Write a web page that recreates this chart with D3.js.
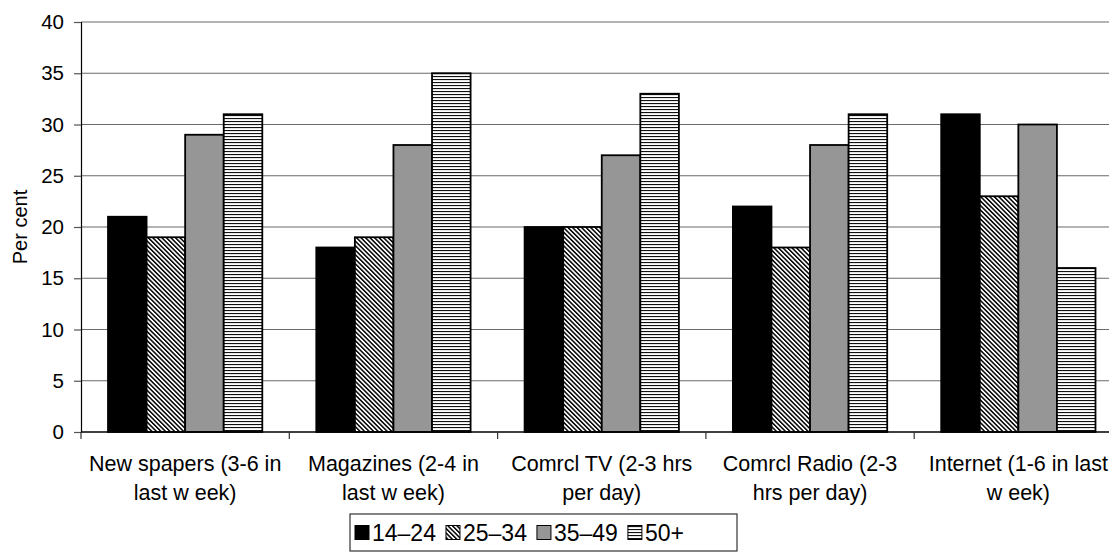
<!DOCTYPE html>
<html>
<head>
<meta charset="utf-8">
<script src="https://cdn.jsdelivr.net/npm/d3@7"></script>
<style>
  html, body { margin: 0; padding: 0; background: #fff; }
  svg { display: block; font-family: "Liberation Sans", Arial, sans-serif; }
</style>
</head>
<body>
<svg id="chart" width="1109" height="559"></svg>
<script>
// Media consumption by age group
const categories = ["Newspapers", "Magazines", "Comrcl TV", "Comrcl Radio", "Internet"];
const categoryLabels = [
  ["New spapers (3-6 in", "last w eek)"],
  ["Magazines (2-4 in", "last w eek)"],
  ["Comrcl TV (2-3 hrs", "per day)"],
  ["Comrcl Radio (2-3", "hrs per day)"],
  ["Internet (1-6 in last", "w eek)"]
];
const seriesNames = ["14–24", "25–34", "35–49", "50+"];
const age14to24 = [21, 18, 20, 22, 31];
const age25to34 = [19, 19, 20, 18, 23];
const age35to49 = [29, 28, 27, 28, 30];
const age50plus = [31, 35, 33, 31, 16];
const seriesValues = [age14to24, age25to34, age35to49, age50plus];
const yTicks = [0, 5, 10, 15, 20, 25, 30, 35, 40];
const yTitle = "Per cent";

const svg = d3.select("#chart");
const defs = svg.append("defs");

// fills: solid black, diagonal hatch, grey, horizontal lines
defs.append("pattern")
  .attr("id", "hatch").attr("patternUnits", "userSpaceOnUse")
  .attr("width", 3.2).attr("height", 3.2)
  .attr("patternTransform", "rotate(-45)")
  .call(p => {
    p.append("rect").attr("width", 3.2).attr("height", 3.2).attr("fill", "#fff");
    p.append("rect").attr("width", 1.5).attr("height", 3.2).attr("fill", "#000");
  });
defs.append("pattern")
  .attr("id", "hlines").attr("patternUnits", "userSpaceOnUse")
  .attr("width", 6).attr("height", 3)
  .call(p => {
    p.append("rect").attr("width", 6).attr("height", 3).attr("fill", "#fff");
    p.append("rect").attr("y", 1).attr("width", 6).attr("height", 1.1).attr("fill", "#111");
  });
const fills = ["#000", "url(#hatch)", "#969696", "url(#hlines)"];

const plotLeft = 81, plotTop = 22, plotBottom = 432, catWidth = 208.3;
const x = d3.scaleBand().domain(categories)
  .range([plotLeft, plotLeft + catWidth * categories.length]).padding(0);
const xs = d3.scaleBand().domain(seriesNames)
  .range([0, x.bandwidth()]).paddingInner(0).paddingOuter(0.7);
const y = d3.scaleLinear().domain([0, 40]).range([plotBottom, plotTop]);

// gridlines
svg.append("g").selectAll("line").data(yTicks.filter(t => t > 0)).join("line")
  .attr("x1", plotLeft).attr("x2", x.range()[1])
  .attr("y1", d => y(d)).attr("y2", d => y(d))
  .attr("stroke", "#6a6a6a").attr("stroke-width", 1.2);

// bars
const groups = svg.append("g").selectAll("g").data(seriesNames).join("g");
groups.each(function(s, si) {
  d3.select(this).selectAll("rect").data(categories).join("rect")
    .attr("x", c => x(c) + xs(s))
    .attr("y", (c, ci) => y(seriesValues[si][ci]))
    .attr("width", xs.bandwidth())
    .attr("height", (c, ci) => y(0) - y(seriesValues[si][ci]))
    .attr("fill", fills[si])
    .attr("stroke", "#000").attr("stroke-width", 1.8);
});

// y axis
const yAxis = svg.append("g").attr("transform", `translate(${plotLeft},0)`)
  .call(d3.axisLeft(y).tickValues(yTicks).tickSize(7).tickPadding(10));
yAxis.select(".domain").attr("stroke", "#000").attr("stroke-width", 1.2);
yAxis.selectAll(".tick line").attr("stroke", "#555").attr("stroke-width", 1.2);
yAxis.selectAll(".tick text").attr("font-size", 20.5).attr("fill", "#000")
  .attr("font-family", "Liberation Sans, Arial, sans-serif");

// x axis with ticks on category boundaries
const xAxisG = svg.append("g");
xAxisG.append("line").attr("x1", plotLeft).attr("x2", x.range()[1])
  .attr("y1", plotBottom).attr("y2", plotBottom).attr("stroke", "#000").attr("stroke-width", 1.4);
const bounds = categories.map(c => x(c)).concat([x.range()[1]]);
xAxisG.selectAll("line.bt").data(bounds).join("line").attr("class", "bt")
  .attr("x1", d => d).attr("x2", d => d)
  .attr("y1", plotBottom).attr("y2", plotBottom + 7)
  .attr("stroke", "#333").attr("stroke-width", 1.2);
xAxisG.selectAll("text").data(categories).join("text")
  .attr("x", c => x(c) + x.bandwidth() / 2)
  .attr("y", 471)
  .attr("text-anchor", "middle").attr("font-size", 21.5).attr("fill", "#000")
  .each(function(c, i) {
    const t = d3.select(this);
    categoryLabels[i].forEach((line, li) => {
      t.append("tspan").attr("x", x(c) + x.bandwidth() / 2)
        .attr("dy", li === 0 ? 0 : 29).text(line);
    });
  });

// y title
svg.append("text")
  .attr("transform", `translate(27,${(plotTop + plotBottom) / 2}) rotate(-90)`)
  .attr("text-anchor", "middle").attr("font-size", 20).attr("fill", "#000")
  .text(yTitle);

// legend
const legend = svg.append("g");
const lgLeft = 350, lgRight = 737, lgTop = 514, lgH = 37, sw = 14, fontSize = 23;
let cx = lgLeft + 5;
const items = legend.append("g");
seriesNames.forEach((s, i) => {
  const g = items.append("g").attr("transform", `translate(${cx},0)`);
  g.append("rect").attr("x", 0).attr("y", lgTop + lgH / 2 - sw / 2)
    .attr("width", sw).attr("height", sw)
    .attr("fill", fills[i]).attr("stroke", "#000").attr("stroke-width", 1);
  const t = g.append("text").attr("x", sw + 3).attr("y", lgTop + lgH / 2 + 8.5)
    .attr("font-size", fontSize).attr("fill", "#000").text(s);
  cx += sw + 3 + t.node().getComputedTextLength() + 10;
});
legend.insert("rect", ":first-child")
  .attr("x", lgLeft).attr("y", lgTop)
  .attr("width", lgRight - lgLeft).attr("height", lgH)
  .attr("fill", "#fff").attr("stroke", "#333").attr("stroke-width", 1.2);
</script>
</body>
</html>
